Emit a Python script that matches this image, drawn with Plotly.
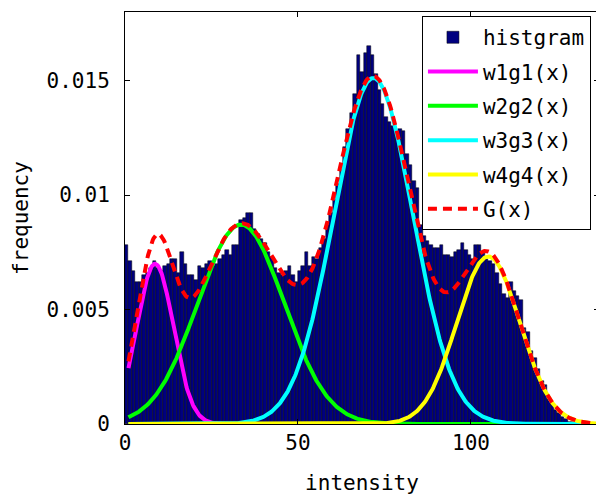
import numpy as np
import plotly.graph_objects as go

# Histogram: frequency per unit-width intensity bin starting at 0
hist_freq = [
    0.0078, 0.0071, 0.0067, 0.0062, 0.0062, 0.0065, 0.0066, 0.0068, 0.0071, 0.0068,
    0.0067, 0.0069, 0.0070, 0.0072, 0.0072, 0.0066, 0.0075, 0.0070, 0.0065, 0.0065,
    0.0063, 0.0069, 0.0068, 0.0070, 0.0071, 0.0069, 0.0070, 0.0072, 0.0074, 0.0076,
    0.0074, 0.0078, 0.0078, 0.0089, 0.0090, 0.0092, 0.0092, 0.0085, 0.0083, 0.0081,
    0.0079, 0.0075, 0.0073, 0.0068, 0.0066, 0.0065, 0.0067, 0.0069, 0.0065, 0.0062,
    0.0067, 0.0069, 0.0075, 0.0069, 0.0073, 0.0072, 0.0077, 0.0081, 0.0087, 0.0092,
    0.0098, 0.0105, 0.0111, 0.0121, 0.0129, 0.0136, 0.0144, 0.0161, 0.0154, 0.0162,
    0.0165, 0.0161, 0.0153, 0.0146, 0.0140, 0.0134, 0.0132, 0.0130, 0.0128, 0.0129,
    0.0128, 0.0118, 0.0113, 0.0106, 0.0103, 0.0087, 0.0082, 0.0080, 0.0078, 0.0077,
    0.0077, 0.0078, 0.0074, 0.0074, 0.0073, 0.0075, 0.0076, 0.0079, 0.0076, 0.0074,
    0.0072, 0.0078, 0.0078, 0.0075, 0.0072, 0.0071, 0.0070, 0.0066, 0.0061, 0.0057,
    0.0055, 0.0062, 0.0058, 0.0056, 0.0054, 0.0042, 0.0040, 0.0032, 0.0029, 0.0024,
    0.0019, 0.0017, 0.0011, 0.0009, 0.0006, 0.0005, 0.0003, 0.0002, 0.0001, 0.0001,
]
bin_centers = [i + 0.5 for i in range(len(hist_freq))]

# Fitted Gaussian mixture components (weight, mean, sigma)
comp_names = ["w1g1(x)", "w2g2(x)", "w3g3(x)", "w4g4(x)"]
comp_weights = [0.093, 0.273, 0.432, 0.167]
comp_means = [8.7, 33.5, 71.8, 105.0]
comp_sigmas = [5.3, 12.5, 11.4, 9.1]
comp_colors = ["#ff00ff", "#00ff00", "#00ffff", "#ffff00"]

x_start, x_end = 1, 137
x_ticks = [0, 50, 100]
y_ticks = [0, 0.005, 0.01, 0.015]

xs = np.linspace(x_start, x_end, 600)
def comp(w, m, s):
    return w / (s * np.sqrt(2 * np.pi)) * np.exp(-(xs - m) ** 2 / (2 * s ** 2))

FONT = "DejaVu Sans Mono"
fig = go.Figure()
fig.add_trace(go.Bar(
    x=bin_centers, y=hist_freq, width=1.0, name="histgram",
    marker=dict(color="#000080", line=dict(color="#000000", width=0.5)),
    legendgroup="h",
))
total = np.zeros_like(xs)
for n, w, m, s, c in zip(comp_names, comp_weights, comp_means, comp_sigmas, comp_colors):
    yv = comp(w, m, s)
    total += yv
    fig.add_trace(go.Scatter(x=xs, y=yv, mode="lines", name=n,
                             line=dict(color=c, width=4), legendgroup=n))
fig.add_trace(go.Scatter(x=xs, y=total, mode="lines", name="G(x)",
                         line=dict(color="#ff0000", width=4, dash="9px,6px"),
                         legendgroup="G"))

axis_common = dict(
    showgrid=False, zeroline=False, showline=True, linecolor="black", linewidth=1,
    mirror="ticks", ticks="inside", ticklen=5, tickcolor="black", automargin=False,
    tickfont=dict(family=FONT, size=21, color="black"),
)
fig.update_layout(
    width=596, height=488,
    margin=dict(l=117, r=5, t=4, b=72),
    paper_bgcolor="white", plot_bgcolor="white",
    bargap=0,
    font=dict(family=FONT, size=21, color="black"),
    xaxis=dict(range=[0, 137], tickvals=x_ticks,
               title=dict(text="intensity", font=dict(family=FONT, size=21), standoff=21),
               **axis_common),
    yaxis=dict(range=[0, 0.018], tickvals=y_ticks,
               ticktext=["0", "0.005", "0.01", "0.015"], ticklabelstandoff=10,
               title=dict(text="frequency", font=dict(family=FONT, size=21), standoff=12),
               **axis_common),
    legend=dict(x=0.983, y=0.99, xanchor="right", yanchor="top",
                bgcolor="white", bordercolor="black", borderwidth=1,
                font=dict(family=FONT, size=21), itemwidth=50,
                traceorder="grouped", tracegroupgap=4),
    showlegend=True,
)
fig.write_html("out.html")
